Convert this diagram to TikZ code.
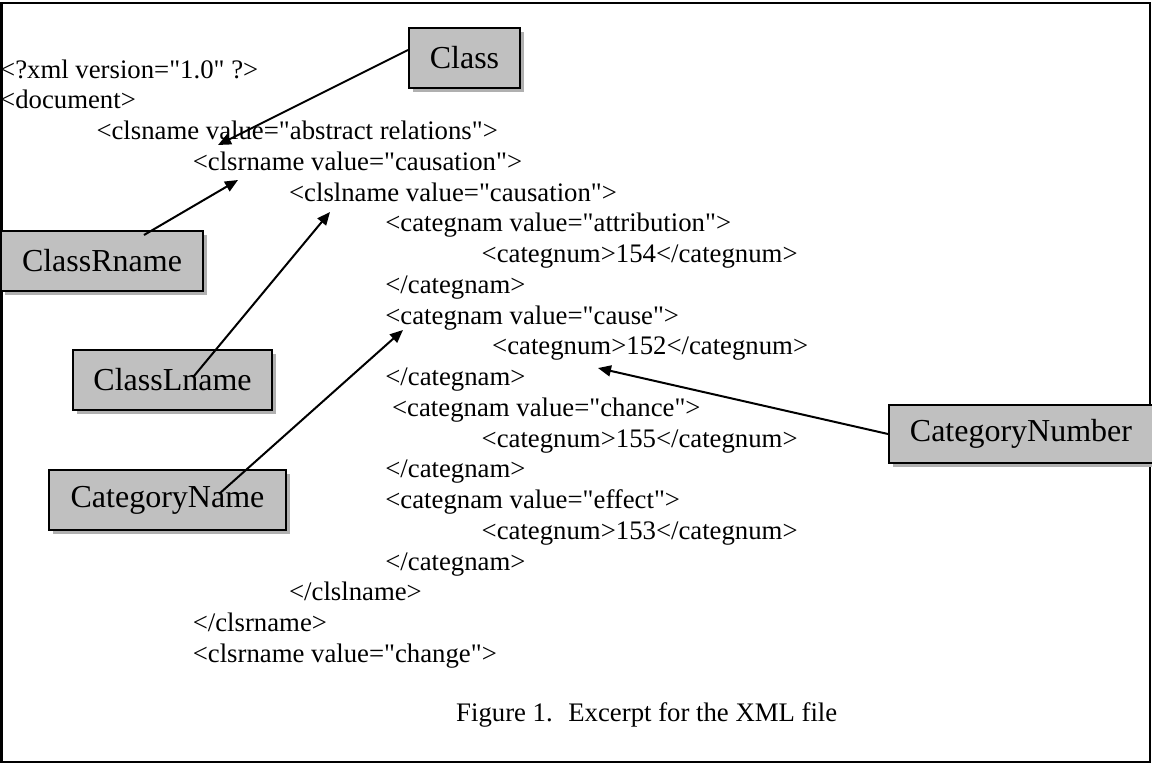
\documentclass[tikz,border=0pt]{standalone}
\usepackage{fontspec}
\setmainfont{Liberation Serif}[Ligatures=TeXOff]
\usetikzlibrary{arrows.meta,shadows,calc}
\begin{document}
\begin{tikzpicture}[x=1pt,y=-1pt,
  code/.style={anchor=base west,inner sep=0pt,font=\fontsize{26.75pt}{30.76pt}\selectfont},
  lbl/.style={draw=black,line width=2pt,fill=boxgray,minimum height=60pt,inner sep=0pt,
    font=\fontsize{32pt}{36pt}\selectfont,
    drop shadow={shadow xshift=3.5pt,shadow yshift=-3.5pt,fill=shadowgray,opacity=1}},
  link/.style={line width=2pt,-{Triangle[length=13pt,width=11pt]}}]
\definecolor{boxgray}{RGB}{192,192,192}
\definecolor{shadowgray}{RGB}{176,176,176}
\useasboundingbox (0,0) rectangle (1152,764);
\fill[white] (0,0) rectangle (1152,764);
% frame
\draw[line width=2.5pt] (1.3,2.8) rectangle (1150.2,762.2);
% code lines
\node[code] (l1)  at (0,78)       {<?xml version="1.0" ?>};
\node[code] (l2)  at (0,108.76)   {<document>};
\node[code] (l3)  at (96.3,139.52)  {<clsname value="abstract relations">};
\node[code] (l4)  at (192.6,170.28) {<clsrname value="causation">};
\node[code] (l5)  at (288.9,201.04) {<clslname value="causation">};
\node[code] (l6)  at (385.2,231.8)  {<categnam value="attribution">};
\node[code] (l7)  at (481.5,262.56) {<categnum>154</categnum>};
\node[code] (l8)  at (385.2,293.32) {</categnam>};
\node[code] (l9)  at (385.2,324.08) {<categnam value="cause">};
\node[code] (l10) at (492,354.84)   {<categnum>152</categnum>};
\node[code] (l11) at (385.2,385.6)  {</categnam>};
\node[code] (l12) at (391.9,416.36) {<categnam value="chance">};
\node[code] (l13) at (481.5,447.12) {<categnum>155</categnum>};
\node[code] (l14) at (385.2,477.88) {</categnam>};
\node[code] (l15) at (385.2,508.64) {<categnam value="effect">};
\node[code] (l16) at (481.5,539.4)  {<categnum>153</categnum>};
\node[code] (l17) at (385.2,570.16) {</categnam>};
\node[code] (l18) at (288.9,600.92) {</clslname>};
\node[code] (l19) at (192.6,631.68) {</clsrname>};
\node[code] (l20) at (192.6,662.44) {<clsrname value="change">};
\node[code] (cap) at (456,721)      {Figure 1.\hspace{0.25em} Excerpt for the XML file};
% label boxes
\node[lbl,minimum width=111pt] (class)  at (464.5,58)  {Class};
\node[lbl,minimum width=202pt] (crname) at (102,261)   {ClassRname};
\node[lbl,minimum width=199pt] (clname) at (172.5,380) {ClassLname};
\node[lbl,minimum width=237pt] (cname)  at (167.5,500) {CategoryName};
\node[lbl,minimum width=264pt,minimum height=58pt] (cnum) at (1021,434) {CategoryNumber};
% arrow targets
\coordinate (t1) at (218,145);
\coordinate (t2) at (238,180);
\coordinate (t3) at (330,212);
\coordinate (t4) at (403,330);
\coordinate (t5) at (598,368);
% connectors
\draw[link] ($(class.west)+(0,-8)$) -- (t1);
\draw[link] ($(crname.north west)+(144,5)$) -- (t2);
\draw[link] ($(clname.north west)+(122,27)$) -- (t3);
\draw[link] ($(cname.north west)+(171,25)$) -- (t4);
\draw[link] (cnum.west) -- (t5);
\end{tikzpicture}
\end{document}
